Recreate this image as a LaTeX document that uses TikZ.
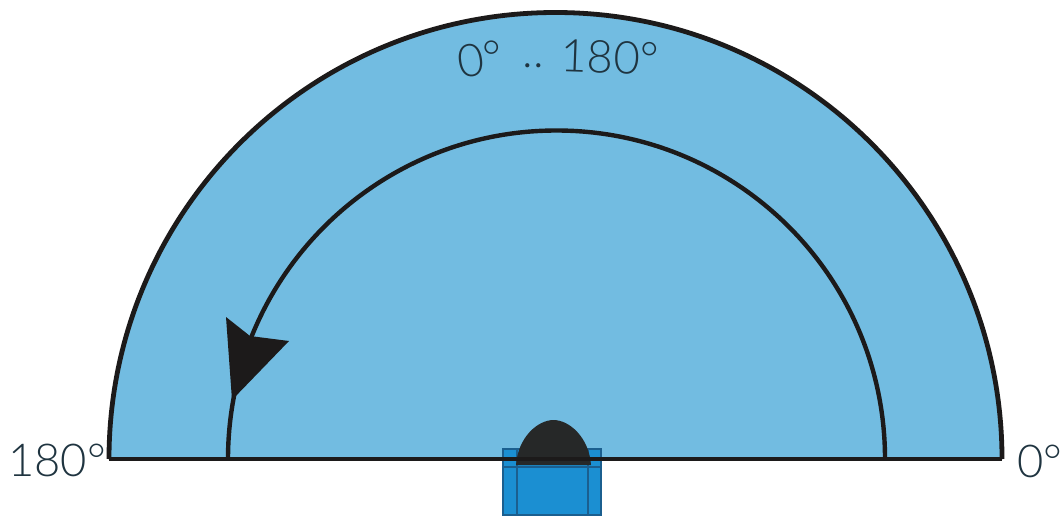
\documentclass[tikz,border=0pt]{standalone}
\usepackage{fontspec}
\setmainfont{Lato}[UprightFont=* Light]
\definecolor{sky}{HTML}{72BCE1}
\definecolor{blockblue}{HTML}{1B8FD2}
\definecolor{blockedge}{HTML}{1B5F8F}
\definecolor{ink}{HTML}{1C1A1A}
\definecolor{dome}{HTML}{262828}
\definecolor{labelink}{HTML}{1F3440}
\tikzset{
  x=0.75pt,y=0.75pt,
  thickline/.style={draw=ink,line width=3.6pt},
  midline/.style={draw=ink,line width=3.3pt},
  angletext/.style={inner sep=0pt,text=labelink,font=\fontsize{34}{34}\selectfont},
  blockpart/.style={fill=blockblue,draw=blockedge,line width=1pt}
}
\begin{document}
\begin{tikzpicture}
\useasboundingbox (0,0) rectangle (1062,515);
\coordinate (c) at (555.5,56);
\coordinate (ol) at (109,56);
\coordinate (or) at (1002,56);
\coordinate (il) at (228,56);
\coordinate (ir) at (885,56);
% sensor block
\path[blockpart] (503,0) rectangle (601,66);
\draw[blockedge,line width=1pt] (517,0) -- (517,66) (588,0) -- (588,66);
% half disc
\path[fill=sky] (ol) arc[start angle=180,end angle=0,radius=446.5] -- cycle;
\path[blockpart] (503,48) rectangle (601,66);
\draw[blockedge,line width=1pt] (517,48) -- (517,66) (588,48) -- (588,66);
% dome
\path[fill=dome] (516,50) .. controls (518,78) and (538,95) .. (553.5,95) .. controls (569,95) and (589,78) .. (591,50) -- cycle;
% arcs
\draw[midline] (ir) arc[start angle=0,end angle=180,radius=328.5];
\draw[thickline,line cap=butt] (or) arc[start angle=0,end angle=180,radius=446.5];
\draw[thickline] (ol) -- (or);
% arrowhead
\path[fill=ink] (226,198) -- (250,179) -- (289,174) -- (232,115) -- cycle;
% labels
\node[angletext,anchor=center,rotate=9] (zero) at (480,456) {0°};
\node[angletext,anchor=center] (dots) at (533,449) {..};
\node[angletext,anchor=center,rotate=-2] (oneeighty) at (610,458) {180°};
\node[angletext,anchor=west] (left) at (8,55) {180°};
\node[angletext,anchor=west] (right) at (1017,54) {0°};
\end{tikzpicture}
\end{document}
